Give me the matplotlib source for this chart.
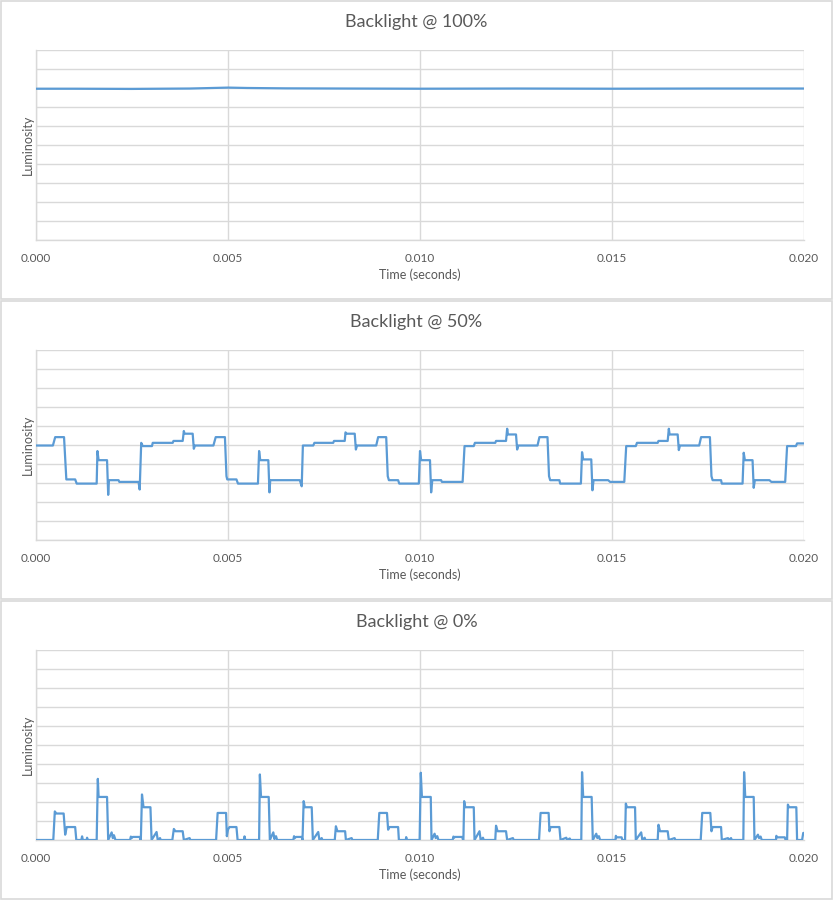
import numpy as np
import matplotlib
matplotlib.use("Agg")
import matplotlib.pyplot as plt
from matplotlib.patches import Rectangle

# ---- data (time in ms, luminosity in grid units 0..10) ----
titles = ["Backlight @ 100%", "Backlight @ 50%", "Backlight @ 0%"]
x_ticks = [0.000, 0.005, 0.010, 0.015, 0.020]

t_100 = [0.0, 1.0, 2.5, 4.0, 4.6, 5.0, 5.5, 6.5, 8.0, 10.0, 12.5, 15.0, 17.5, 20.0]
lum_100 = [7.94, 7.94, 7.93, 7.95, 7.98, 8.00, 7.98, 7.96, 7.95, 7.94, 7.95, 7.94, 7.95, 7.95]

t_50 = [0.00, 0.44, 0.50, 0.73, 0.79, 1.02, 1.06, 1.58, 1.60, 1.63, 1.85, 1.88, 1.90,
        2.15, 2.17, 2.67, 2.70, 2.74, 2.78, 3.02, 3.04, 3.56, 3.58, 3.82, 3.85, 3.87,
        4.08, 4.11, 4.14, 4.62, 4.68, 4.92, 4.96, 4.98, 5.22, 5.26, 5.78, 5.81, 5.84,
        6.05, 6.08, 6.10, 6.87, 6.92, 6.95, 7.22, 7.25, 7.74, 7.76, 8.04, 8.06, 8.09,
        8.30, 8.33, 8.36, 8.86, 8.91, 9.12, 9.16, 9.19, 9.43, 9.46, 9.97, 10.00, 10.03,
        10.26, 10.29, 10.32, 10.55, 10.57, 11.11, 11.16, 11.40, 11.43, 11.96, 11.98,
        12.24, 12.27, 12.29, 12.50, 12.53, 12.56, 13.06, 13.11, 13.32, 13.36, 13.39,
        13.63, 13.65, 14.19, 14.22, 14.25, 14.46, 14.49, 14.52, 14.90, 14.95, 15.32,
        15.37, 15.62, 15.65, 16.19, 16.21, 16.45, 16.48, 16.50, 16.71, 16.74, 16.77,
        17.27, 17.32, 17.55, 17.59, 17.62, 17.84, 17.86, 18.40, 18.43, 18.46, 18.66,
        18.69, 18.72, 19.10, 19.15, 19.51, 19.56, 19.79, 19.82, 20.00]
lum_50 = [4.96, 4.96, 5.40, 5.40, 3.18, 3.18, 2.96, 2.96, 4.67, 4.19, 4.19, 2.37, 3.14,
          3.14, 3.05, 3.05, 2.65, 5.10, 4.93, 4.93, 5.10, 5.10, 5.20, 5.20, 5.72, 5.58,
          5.58, 4.79, 4.96, 4.96, 5.40, 5.40, 3.35, 3.18, 3.18, 2.96, 2.96, 4.67, 4.19,
          4.19, 2.50, 3.14, 3.14, 2.82, 4.96, 4.96, 5.10, 5.10, 5.20, 5.20, 5.65, 5.58,
          5.58, 4.75, 4.96, 4.96, 5.40, 5.40, 3.35, 3.14, 3.14, 2.96, 2.96, 4.67, 4.19,
          4.19, 2.50, 3.14, 3.14, 3.05, 3.05, 4.93, 4.93, 5.10, 5.10, 5.20,
          5.20, 5.84, 5.54, 5.54, 4.75, 4.96, 4.96, 5.40, 5.40, 3.35, 3.14,
          3.14, 2.96, 2.96, 4.61, 4.23, 4.23, 2.61, 3.14, 3.14, 3.05, 3.05,
          4.93, 4.93, 5.10, 5.10, 5.20, 5.20, 5.84, 5.54, 5.54, 4.72, 4.96,
          4.96, 5.40, 5.40, 3.35, 3.14, 3.14, 2.96, 2.96, 4.58, 4.19, 4.19,
          2.74, 3.14, 3.14, 3.05, 3.05, 4.93, 4.93, 5.07, 5.07]

t_0 = [0.00, 0.45, 0.49, 0.53, 0.72, 0.76, 0.80, 1.02, 1.05, 1.18, 1.20, 1.22, 1.32, 1.33,
       1.35, 1.58, 1.61, 1.63, 1.85, 1.88, 1.97, 2.00, 2.03, 2.07, 2.45, 2.47, 2.49, 2.52,
       2.70, 2.72, 2.73, 2.76, 2.80, 2.98, 3.01, 3.14, 3.17, 3.23, 3.25, 3.55, 3.59, 3.63,
       3.82, 3.85, 4.00, 4.02, 4.69, 4.73, 4.95, 4.97, 5.00, 5.04, 5.22, 5.25, 5.42, 5.43,
       5.45, 5.81, 5.83, 5.86, 6.06, 6.09, 6.18, 6.21, 6.25, 6.28, 6.70, 6.72, 6.74, 6.77,
       6.92, 6.94, 6.97, 7.00, 7.18, 7.21, 7.35, 7.38, 7.44, 7.46, 7.78, 7.81, 7.85, 8.05,
       8.07, 8.22, 8.24, 8.90, 8.94, 9.14, 9.17, 9.20, 9.43, 9.45, 9.63, 9.64, 9.66, 9.99,
       10.02, 10.05, 10.28, 10.30, 10.38, 10.41, 10.45, 10.48, 10.85, 10.87, 10.89, 10.90,
       11.10, 11.12, 11.13, 11.15, 11.18, 11.40, 11.42, 11.55, 11.58, 11.64, 11.66, 11.96,
       11.98, 12.02, 12.24, 12.27, 12.42, 12.44, 13.10, 13.14, 13.35, 13.37, 13.40, 13.63,
       13.66, 13.81, 13.83, 13.90, 13.92, 14.20, 14.22, 14.25, 14.47, 14.50, 14.59, 14.62,
       14.66, 14.69, 15.09, 15.10, 15.12, 15.25, 15.27, 15.34, 15.36, 15.39, 15.60, 15.62,
       15.76, 15.79, 15.85, 15.87, 16.19, 16.21, 16.25, 16.45, 16.48, 16.63, 16.65, 17.31,
       17.35, 17.56, 17.59, 17.62, 17.84, 17.86, 18.02, 18.04, 18.10, 18.12, 18.42, 18.44,
       18.47, 18.69, 18.71, 18.80, 18.83, 18.87, 18.90, 19.27, 19.28, 19.30, 19.50, 19.52,
       19.56, 19.58, 19.61, 19.80, 19.82, 19.95, 19.98, 20.00]
lum_0 = [0.0, 0.0, 1.50, 1.39, 1.39, 0.28, 0.68, 0.68, 0.0, 0.0, 0.19, 0.0, 0.0, 0.12,
         0.0, 0.0, 3.21, 2.26, 2.26, 0.0, 0.40, 0.10, 0.25, 0.0, 0.0, 0.18, 0.10, 0.16,
         0.16, 0.0, 0.0, 2.39, 1.72, 1.72, 0.0, 0.42, 0.0, 0.10, 0.0, 0.0, 0.58, 0.46,
         0.46, 0.0, 0.10, 0.0, 0.0, 1.42, 1.42, 0.20, 0.55, 0.68, 0.68, 0.0, 0.0, 0.19,
         0.0, 0.0, 3.44, 2.26, 2.26, 0.0, 0.40, 0.05, 0.20, 0.0, 0.0, 0.20, 0.10, 0.16,
         0.16, 0.0, 2.04, 1.72, 1.72, 0.0, 0.42, 0.0, 0.10, 0.0, 0.0, 0.72, 0.46, 0.46,
         0.0, 0.10, 0.0, 0.0, 1.42, 1.42, 0.54, 0.68, 0.68, 0.0, 0.0, 0.15, 0.0, 0.0,
         3.53, 2.26, 2.26, 0.0, 0.33, 0.10, 0.20, 0.0, 0.0, 0.18, 0.12, 0.16,
         0.16, 0.0, 0.0, 2.04, 1.72, 1.72, 0.0, 0.46, 0.0, 0.12, 0.0, 0.0,
         0.75, 0.46, 0.46, 0.0, 0.10, 0.0, 0.0, 1.42, 1.42, 0.46, 0.68, 0.68,
         0.0, 0.12, 0.0, 0.08, 0.0, 0.0, 3.56, 2.26, 2.26, 0.0, 0.33, 0.10,
         0.20, 0.0, 0.0, 0.22, 0.14, 0.14, 0.0, 0.0, 1.91, 1.72, 1.72, 0.0,
         0.40, 0.0, 0.12, 0.0, 0.0, 0.80, 0.46, 0.46, 0.0, 0.10, 0.0, 0.0,
         1.42, 1.42, 0.46, 0.68, 0.68, 0.0, 0.10, 0.0, 0.10, 0.0, 0.0, 3.56,
         2.26, 2.26, 0.0, 0.28, 0.10, 0.18, 0.0, 0.0, 0.22, 0.14, 0.14, 0.0,
         0.0, 1.86, 1.72, 1.72, 0.0, 0.0, 0.37, 0.37]

series = [(t_100, lum_100), (t_50, lum_50), (t_0, lum_0)]

# ---- styling ----
W, H = 833, 900
LINE = '#5B9BD5'
GRID = '#D9D9D9'
TEXT = '#595959'
plt.rcParams['font.family'] = ['Lato', 'DejaVu Sans']

fig = plt.figure(figsize=(W / 100, H / 100), dpi=100)
fig.patch.set_facecolor('white')

panel_top = [0, 300, 600]
for i, (title, (t, lum)) in enumerate(zip(titles, series)):
    top = panel_top[i]
    # panel border
    fig.patches.append(Rectangle((1 / W, 1 - (top + 299) / H), 831 / W, 298 / H,
                                 transform=fig.transFigure, fill=False,
                                 edgecolor=GRID, linewidth=1.2))

    ax_top, ax_bot = top + 49.5, top + 240
    ax = fig.add_axes([36 / W, 1 - ax_bot / H, 768 / W, (ax_bot - ax_top) / H])
    ax.plot(np.array(t) / 1000.0, lum, color=LINE, linewidth=1.6, zorder=3)

    ax.set_xlim(0, 0.020)
    ax.set_ylim(0, 10)
    ax.set_xticks(x_ticks)
    ax.set_xticklabels([f'{v:.3f}' for v in x_ticks])
    ax.set_yticks(np.arange(0, 11, 1))
    ax.set_yticklabels([])
    ax.tick_params(axis='both', length=0, colors=TEXT, labelsize=8.5)
    ax.tick_params(axis='x', pad=9)
    ax.grid(True, color=GRID, linewidth=1.0)
    ax.set_axisbelow(True)
    for side in ['top', 'right']:
        ax.spines[side].set_visible(False)
    for side in ['left', 'bottom']:
        ax.spines[side].set_color(GRID)
        ax.spines[side].set_linewidth(1.0)

    fig.text(416.5 / W, 1 - (top + 22) / H, title, ha='center', va='center',
             fontsize=13, color=TEXT)
    fig.text(420 / W, 1 - (top + 275) / H, 'Time (seconds)', ha='center', va='center',
             fontsize=9, color=TEXT)
    fig.text(28 / W, 1 - (top + 145) / H, 'Luminosity', ha='center', va='center',
             rotation=90, fontsize=9, color=TEXT)

fig.savefig('out.png', dpi=100, facecolor='white')
